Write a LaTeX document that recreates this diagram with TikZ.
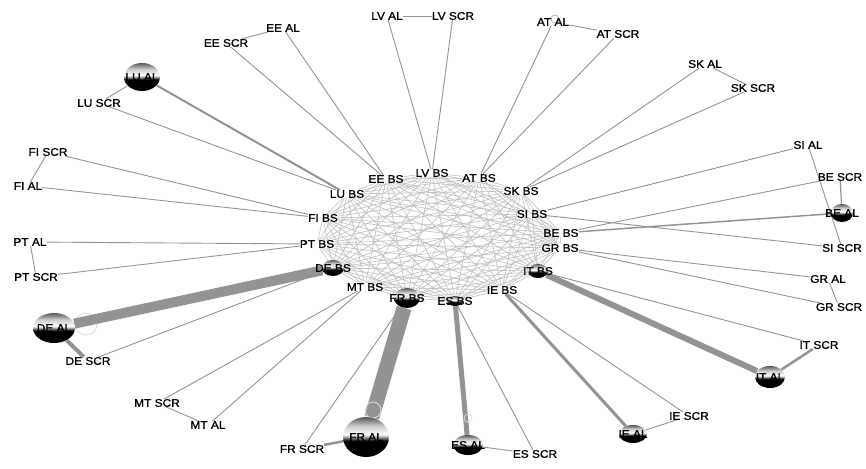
\documentclass[tikz,border=0pt]{standalone}
\usepackage{fontspec}
\newfontfamily\labfont[FakeStretch=1.08, FakeBold=1.2]{Liberation Sans}
\usepackage{tikz}
\usetikzlibrary{shapes.geometric, backgrounds}
\pgfdeclareverticalshading{sph}{100bp}{color(0bp)=(black); color(25bp)=(black); color(45bp)=(black); color(53bp)=(white); color(64bp)=(gray!40); color(75bp)=(black!65); color(100bp)=(black!65)}
\tikzset{
  lab/.style={font=\labfont\fontsize{11}{11}\selectfont, inner sep=0pt},
  ball/.style n args={3}{ellipse, shading=sph, minimum width=#1, minimum height=#2, inner sep=0pt, label={[lab]center:#3}},
  web/.style={draw=gray!50, line width=0.6pt},
  link/.style={draw=gray!85, line width=0.9pt},
  selfloop/.style={draw=gray!30, line width=0.8pt}
}

\begin{document}
\begin{tikzpicture}[x=1pt,y=-1pt]
  \useasboundingbox (0,0) rectangle (866,468);

  % Inner ring
  \node[lab] (lvbs) at (432,173) {LV BS};
  \node[lab] (atbs) at (479,178) {AT BS};
  \node[lab] (skbs) at (521,191) {SK BS};
  \node[lab] (sibs) at (532,214) {SI BS};
  \node[lab] (bebs) at (561,233) {BE BS};
  \node[lab] (grbs) at (560,248) {GR BS};
  \node[ball={20pt}{14pt}{IT BS}] (itbs) at (538,271) {};
  \node[lab] (iebs) at (502,290) {IE BS};
  \node[ball={16pt}{10pt}{ES BS}] (esbs) at (455,301) {};
  \node[ball={26pt}{20pt}{FR BS}] (frbs) at (407,298) {};
  \node[lab] (mtbs) at (365,287) {MT BS};
  \node[ball={22pt}{16pt}{DE BS}] (debs) at (333,268) {};
  \node[lab] (ptbs) at (317,244) {PT BS};
  \node[lab] (fibs) at (323,218) {FI BS};
  \node[lab] (lubs) at (347,194) {LU BS};
  \node[lab] (eebs) at (386,179) {EE BS};

  % Outer nodes
  \node[lab] (lval) at (387,16) {LV AL};
  \node[lab] (lvscr) at (453,16) {LV SCR};
  \node[lab] (atal) at (553,22) {AT AL};
  \node[lab] (atscr) at (618,34) {AT SCR};
  \node[lab] (skal) at (705,64) {SK AL};
  \node[lab] (skscr) at (753,88) {SK SCR};
  \node[lab] (sial) at (808,145) {SI AL};
  \node[lab] (siscr) at (842,248) {SI SCR};
  \node[lab] (bescr) at (840,177) {BE SCR};
  \node[ball={22pt}{18pt}{BE AL}] (beal) at (842,213) {};
  \node[lab] (gral) at (828,279) {GR AL};
  \node[lab] (grscr) at (839,307) {GR SCR};
  \node[lab] (itscr) at (819,345) {IT SCR};
  \node[ball={30pt}{22pt}{IT AL}] (ital) at (770,377) {};
  \node[lab] (iescr) at (689,416) {IE SCR};
  \node[ball={28pt}{18pt}{IE AL}] (ieal) at (633,434) {};
  \node[ball={30pt}{20pt}{ES AL}] (esal) at (468,445) {};
  \node[lab] (esscr) at (535,454) {ES SCR};
  \node[ball={46pt}{40pt}{FR AL}] (fral) at (366,437) {};
  \node[lab] (frscr) at (302,449) {FR SCR};
  \node[lab] (mtal) at (208,425) {MT AL};
  \node[lab] (mtscr) at (157,403) {MT SCR};
  \node[ball={42pt}{30pt}{DE AL}] (deal) at (54,328) {};
  \node[lab] (descr) at (88,361) {DE SCR};
  \node[lab] (ptscr) at (36,277) {PT SCR};
  \node[lab] (ptal) at (30,242) {PT AL};
  \node[lab] (fial) at (28,186) {FI AL};
  \node[lab] (fiscr) at (48,152) {FI SCR};
  \node[lab] (luscr) at (99,103) {LU SCR};
  \node[ball={36pt}{28pt}{LU AL}] (lual) at (142,77) {};
  \node[lab] (eescr) at (226,43) {EE SCR};
  \node[lab] (eeal) at (283,28) {EE AL};

  \begin{pgfonlayer}{background}
    % BS web
    \foreach \a [count=\i] in {lvbs,atbs,skbs,sibs,bebs,grbs,itbs,iebs,esbs,frbs,mtbs,debs,ptbs,fibs,lubs,eebs}
      \foreach \b [count=\j] in {lvbs,atbs,skbs,sibs,bebs,grbs,itbs,iebs,esbs,frbs,mtbs,debs,ptbs,fibs,lubs,eebs}
        {\ifnum\j>\i \draw[web] (\a) -- (\b); \fi}
    \draw[selfloop] ([shift={(32,-4)}]deal.center) circle (11pt);
    % BS - AL - SCR triangles
    \foreach \c/\wa/\wp in {lv/0.9/0.9, at/0.9/0.9, sk/0.9/0.9, si/0.9/0.9, be/1.5/1.2,
        gr/0.9/0.9, it/6/2.5, ie/3/0.9, es/5/0.9, fr/15/2.5, mt/0.9/0.9,
        de/10/4, pt/0.9/0.9, fi/0.9/0.9, lu/2/0.9, ee/0.9/0.9}{
      \draw[link, line width=\wa pt] (\c bs) -- (\c al);
      \draw[link] (\c bs) -- (\c scr);
      \draw[link, line width=\wp pt] (\c al) -- (\c scr);
    }
    \draw[selfloop, draw=white!75!gray] ([shift={(7,-27)}]fral.center) circle (8pt);
    \draw[selfloop, draw=white!75!gray] ([shift={(0,-27)}]esal.center) circle (4pt);
    \draw[selfloop, draw=gray!60] ([shift={(2,-3)}]atal.center) circle (4pt);
  \end{pgfonlayer}
\end{tikzpicture}
\end{document}
